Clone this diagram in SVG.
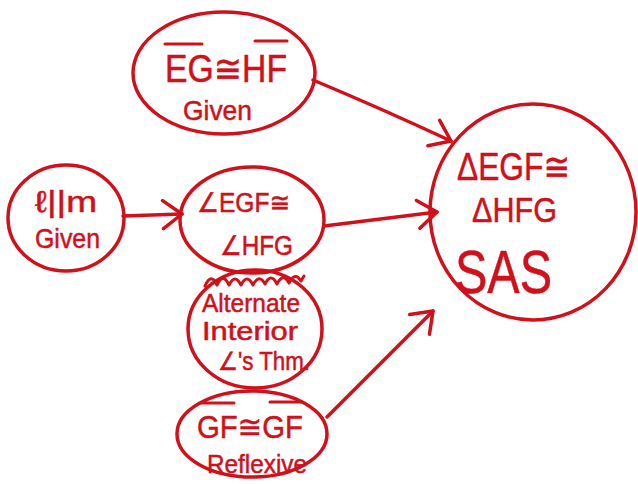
<svg xmlns="http://www.w3.org/2000/svg" width="638" height="484" viewBox="0 0 638 484">
<style>
.node{fill:none;stroke:#d0101a;stroke-width:3.5}
.t{fill:#d0101a;font-family:"Liberation Sans","DejaVu Sans",sans-serif;stroke:#d0101a;stroke-width:0.5}
.ov{stroke:#d0101a;stroke-width:3;fill:none;stroke-linecap:round;stroke-linejoin:round}
.edge{stroke:#d0101a;stroke-width:3.5;fill:none;stroke-linecap:round}
</style>
<defs>
<marker id="arr" markerUnits="userSpaceOnUse" viewBox="-25 -16 30 32" refX="0" refY="0" markerWidth="30" markerHeight="32" orient="auto">
<path d="M-19,-14 L0,0 L-19,14" fill="none" stroke="#d0101a" stroke-width="3.5" stroke-linecap="round" stroke-linejoin="round"/>
</marker>
</defs>
<rect width="638" height="484" fill="#ffffff"/>
<g id="connectors">
<path class="edge" d="M123,216 L182,214" marker-end="url(#arr)"/>
<path class="edge" d="M313,80 Q380,108 451,141" marker-end="url(#arr)"/>
<path class="edge" d="M324,226 L437,212" marker-end="url(#arr)"/>
<path class="edge" d="M327,417 L433,311" marker-end="url(#arr)"/>
</g>
<g id="given1">
<ellipse class="node" cx="224" cy="73" rx="91" ry="61"/>
<line class="ov" x1="165" y1="44" x2="202" y2="44"/>
<line class="ov" x1="255" y1="41" x2="287" y2="41"/>
<text class="t" x="165" y="82" font-size="38" textLength="122" lengthAdjust="spacingAndGlyphs">EG≅HF</text>
<text class="t" x="183" y="120" font-size="28" textLength="69" lengthAdjust="spacingAndGlyphs">Given</text>
</g>
<g id="parallel">
<ellipse class="node" cx="66" cy="218" rx="58" ry="53"/>
<text class="t" x="35" y="212" font-size="30" textLength="62" lengthAdjust="spacingAndGlyphs">ℓ||m</text>
<text class="t" x="35" y="248" font-size="28" textLength="65" lengthAdjust="spacingAndGlyphs">Given</text>
</g>
<g id="angles">
<ellipse class="node" cx="252" cy="220" rx="72" ry="53"/>
<text class="t" x="197" y="212" font-size="27" textLength="93" lengthAdjust="spacingAndGlyphs">∠EGF≅</text>
<text class="t" x="220" y="255" font-size="27" textLength="73" lengthAdjust="spacingAndGlyphs">∠HFG</text>
</g>
<g id="alternate">
<ellipse class="node" cx="255" cy="329" rx="67" ry="59"/>
<path class="ov" d="M205,286 Q211,272 217,285 Q223,272 229,285 Q235,273 241,285 Q247,273 253,285 Q259,273 265,284 Q271,272 277,284 Q283,272 289,283 Q295,271 301,281 L304,276"/>
<text class="t" x="202" y="312" font-size="25" textLength="98" lengthAdjust="spacingAndGlyphs">Alternate</text>
<text class="t" x="202" y="340" font-size="25" textLength="96" lengthAdjust="spacingAndGlyphs">Interior</text>
<text class="t" x="218" y="370" font-size="25" textLength="92" lengthAdjust="spacingAndGlyphs">∠'s Thm.</text>
</g>
<g id="reflexive">
<ellipse class="node" cx="252" cy="434" rx="75" ry="43"/>
<line class="ov" x1="201" y1="403" x2="234" y2="403"/>
<line class="ov" x1="270" y1="402" x2="302" y2="402"/>
<text class="t" x="197" y="438" font-size="32" textLength="106" lengthAdjust="spacingAndGlyphs">GF≅GF</text>
<text class="t" x="207" y="473" font-size="26" textLength="100" lengthAdjust="spacingAndGlyphs">Reflexive</text>
</g>
<g id="sas">
<ellipse class="node" cx="533" cy="212" rx="103" ry="108"/>
<text class="t" x="457" y="180" font-size="38" textLength="113" lengthAdjust="spacingAndGlyphs">ΔEGF≅</text>
<text class="t" x="472" y="222" font-size="35" textLength="85" lengthAdjust="spacingAndGlyphs">ΔHFG</text>
<text class="t" x="455" y="293" font-size="62" textLength="97" lengthAdjust="spacingAndGlyphs">SAS</text>
</g>
</svg>
